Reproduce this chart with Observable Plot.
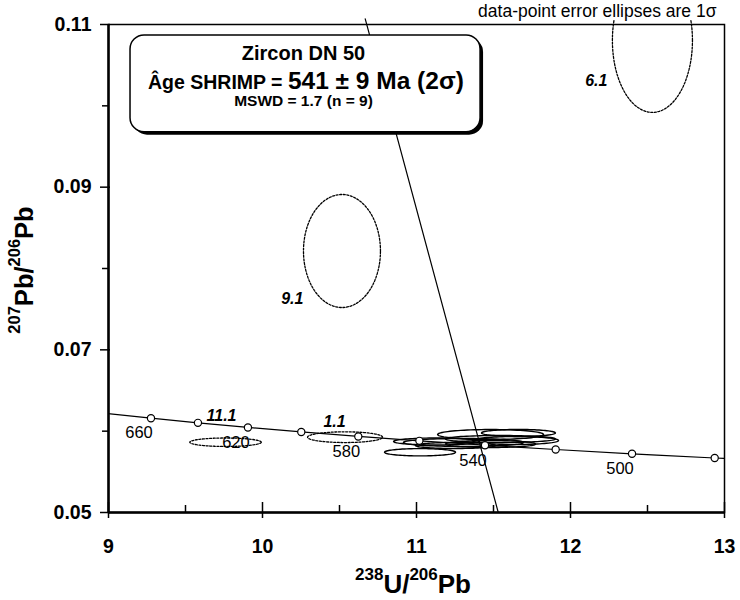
<!DOCTYPE html>
<html><head><meta charset="utf-8">
<script src="https://cdn.jsdelivr.net/npm/d3@7"></script>
<script src="https://cdn.jsdelivr.net/npm/@observablehq/plot@0.6"></script>
<style>
body{margin:0;background:#fff}
</style>
</head><body><div id="chart"></div>
<script>
// Concordia reference ages (Ma) and their Tera-Wasserburg coordinates
const concordiaAges = [680, 660, 640, 620, 600, 580, 560, 540, 520, 500, 480, 470];
const concordiaX = [8.9888, 9.2758, 9.5808, 9.9054, 10.2518, 10.6220, 11.0187, 11.4448, 11.9038, 12.3995, 12.9363, 13.2219];
const concordiaY = [0.062171, 0.061593, 0.061022, 0.060457, 0.059901, 0.059351, 0.058808, 0.058272, 0.057743, 0.057220, 0.056703, 0.056447];
const markedAges = [660, 640, 620, 600, 580, 560, 540, 520, 500, 480];
const labelledAges = [660, 620, 580, 540, 500];

// Discordia (regression) line end points
const discordiaX = [10.667, 11.531];
const discordiaY = [0.1107, 0.05];

// Accepted analyses (solid 1-sigma ellipses)
const acceptedIds = ["a1", "a2", "a3", "a4", "a5", "a6", "a7", "a8", "a9"];
const acceptedX  = [11.023, 11.481, 11.662, 11.130, 11.305, 11.481, 11.643, 11.253, 11.545];
const acceptedY  = [0.05741, 0.05959, 0.05978, 0.05873, 0.05861, 0.05842, 0.05885, 0.05824, 0.05904];
const acceptedSx = [0.2305, 0.344, 0.240, 0.279, 0.390, 0.292, 0.279, 0.260, 0.357];
const acceptedSy = [0.00045, 0.00061, 0.00043, 0.00043, 0.00049, 0.00043, 0.00049, 0.00037, 0.00043];

// Rejected analyses (dotted ellipses) with spot labels
const rejectedIds = ["6.1", "9.1", "11.1", "1.1"];
const rejectedX  = [12.532, 10.516, 9.760, 10.536];
const rejectedY  = [0.10804, 0.08215, 0.05864, 0.05926];
const rejectedSx = [0.26, 0.25, 0.232, 0.2435];
const rejectedSy = [0.00885, 0.00695, 0.00052, 0.00066];
const rejectedLabelX = [12.24, 10.266, 9.734, 10.468];
const rejectedLabelY = [0.10312, 0.07631, 0.06193, 0.06110];
const rejectedLabelSide = ["left", "left", "above", "above"];

// Axis ticks
const xMajor = [9, 10, 11, 12, 13];
const xMinor = [9.5, 10.5, 11.5, 12.5];
const yMajor = [0.05, 0.07, 0.09, 0.11];
const yMinor = [0.06, 0.08, 0.10];

const noteText = "data-point error ellipses are 1\u03c3";
const titleLine1 = "Zircon DN 50";
const titleLine2a = "\u00c2ge SHRIMP =";
const titleLine2b = "541 \u00b1 9 Ma (2\u03c3)";
const titleLine3 = "MSWD = 1.7 (n = 9)";

const yClip = 0.1107;

function ellipsePoints(ids, cx, cy, sx, sy) {
  const pts = [];
  ids.forEach((id, i) => {
    for (let k = 0; k <= 90; k++) {
      const a = k * 2 * Math.PI / 90;
      pts.push({id, x: cx[i] + sx[i] * Math.cos(a), y: cy[i] + sy[i] * Math.sin(a)});
    }
  });
  return pts;
}

const concordia = concordiaAges.map((t, i) => ({t, x: concordiaX[i], y: concordiaY[i]}));
const marked = concordia.filter(d => markedAges.includes(d.t));
const labelled = concordia.filter(d => labelledAges.includes(d.t));
const discordia = discordiaX.map((x, i) => ({x, y: discordiaY[i]}));
const acceptedPts = ellipsePoints(acceptedIds, acceptedX, acceptedY, acceptedSx, acceptedSy);
const rejectedPts = ellipsePoints(rejectedIds, rejectedX, rejectedY, rejectedSx, rejectedSy);
const rejectedLabels = rejectedIds.map((id, i) => ({id, x: rejectedLabelX[i], y: rejectedLabelY[i], side: rejectedLabelSide[i]}));

const W = 740, H = 600, mL = 108, mR = 16, mT = 24, mB = 88;
const innerW = W - mL - mR, innerH = H - mT - mB;
const FONT = "'Liberation Sans', Arial, Helvetica, sans-serif";
const spotStyle = {x: "x", y: "y", text: "id", fontSize: 16, fontWeight: "bold", fontStyle: "italic", lineAnchor: "middle"};

const chart = Plot.plot({
  width: W, height: H,
  marginLeft: mL, marginRight: mR, marginTop: mT, marginBottom: mB,
  style: {fontFamily: FONT, background: "white", color: "black"},
  x: {domain: [9, 13], axis: null},
  y: {domain: [0.05, 0.11], axis: null},
  marks: [
    // concordia curve
    Plot.line(concordia, {x: "x", y: "y", curve: "natural", stroke: "black", strokeWidth: 1.2, clip: true}),
    // discordia
    Plot.line(discordia, {x: "x", y: "y", stroke: "black", strokeWidth: 1.2}),
    // rejected ellipses (dotted)
    Plot.line(rejectedPts, {x: "x", y: d => d.y > yClip ? NaN : d.y, z: "id", stroke: "black", strokeWidth: 1.3, strokeDasharray: "2,1.6"}),
    // accepted ellipses
    Plot.line(acceptedPts, {x: "x", y: "y", z: "id", stroke: "black", strokeWidth: 1.4}),
    // concordia age markers
    Plot.dot(marked, {x: "x", y: "y", r: 3.6, fill: "white", stroke: "black", strokeWidth: 1.2}),
    Plot.text(labelled, {x: "x", y: "y", text: d => String(d.t), dx: -12, dy: 15, fontSize: 16.5, textAnchor: "middle", lineAnchor: "middle"}),
    // spot labels
    Plot.text(rejectedLabels.filter(d => d.side === "left"), {...spotStyle, textAnchor: "end"}),
    Plot.text(rejectedLabels.filter(d => d.side === "above"), {...spotStyle, textAnchor: "middle"}),
    // title box with shadow
    Plot.rect([0], {x1: 9.143, x2: 11.416, y1: 0.09676, y2: 0.10865, rx: 14, fill: "black", dx: 3, dy: 3}),
    Plot.rect([0], {x1: 9.143, x2: 11.416, y1: 0.09676, y2: 0.10865, rx: 14, fill: "white", stroke: "black", strokeWidth: 1.5}),
    Plot.text([titleLine1], {x: 10.266, y: 0.10558, lineAnchor: "bottom", textAnchor: "middle", fontSize: 20, fontWeight: "bold"}),
    Plot.text([titleLine2a], {x: 10.13, y: 0.10201, lineAnchor: "bottom", textAnchor: "end", fontSize: 19.5, fontWeight: "bold"}),
    Plot.text([titleLine2b], {x: 10.165, y: 0.10201, lineAnchor: "bottom", textAnchor: "start", fontSize: 24.5, fontWeight: "bold"}),
    Plot.text([titleLine3], {x: 10.266, y: 0.09992, lineAnchor: "bottom", textAnchor: "middle", fontSize: 15.5, fontWeight: "bold"}),
    // note
    Plot.text([noteText], {frameAnchor: "top-right", dx: -8, dy: -8, lineAnchor: "bottom", textAnchor: "end", fontSize: 17.5}),
    // frame
    Plot.frame({stroke: "black", strokeWidth: 1.5}),
    Plot.ruleX([9], {stroke: "black", strokeWidth: 2.5}),
    Plot.ruleY([0.05], {stroke: "black", strokeWidth: 2.5}),
    // x ticks
    Plot.ruleX(xMajor, {stroke: "black", strokeWidth: 1.5, insetTop: innerH - 10, insetBottom: -6}),
    Plot.ruleX(xMinor, {stroke: "black", strokeWidth: 1.5, insetTop: innerH - 7}),
    // y ticks
    Plot.ruleY(yMajor, {stroke: "black", strokeWidth: 1.5, insetRight: innerW - 2, insetLeft: -8}),
    Plot.ruleY(yMinor, {stroke: "black", strokeWidth: 1.5, insetRight: innerW, insetLeft: -6}),
    // tick labels
    Plot.text(xMajor, {x: d => d, frameAnchor: "bottom", dy: 40, lineAnchor: "bottom", text: d => String(d), fontSize: 19.5, fontWeight: "bold"}),
    Plot.text(yMajor, {y: d => d, frameAnchor: "left", dx: -17, textAnchor: "end", lineAnchor: "middle", text: d => d3.format(".2f")(d), fontSize: 19.5, fontWeight: "bold"})
  ]
});

// Axis titles with superscripted isotope masses
const svg = d3.select(chart);
const xl = svg.append("text")
  .attr("x", 413).attr("y", 580)
  .attr("text-anchor", "middle").attr("font-weight", "bold").attr("font-family", FONT).attr("fill", "black");
xl.append("tspan").attr("font-size", 17).attr("dy", 0).text("238");
xl.append("tspan").attr("font-size", 26).attr("dy", 13).text("U/");
xl.append("tspan").attr("font-size", 17).attr("dy", -13).text("206");
xl.append("tspan").attr("font-size", 26).attr("dy", 13).text("Pb");

const yl = svg.append("text")
  .attr("transform", "translate(33,270) rotate(-90)")
  .attr("x", 0).attr("y", -13)
  .attr("text-anchor", "middle").attr("font-weight", "bold").attr("font-family", FONT).attr("fill", "black");
yl.append("tspan").attr("font-size", 16.5).attr("dy", 0).text("207");
yl.append("tspan").attr("font-size", 25.5).attr("dy", 13).text("Pb/");
yl.append("tspan").attr("font-size", 16.5).attr("dy", -13).text("206");
yl.append("tspan").attr("font-size", 25.5).attr("dy", 13).text("Pb");

document.getElementById("chart").appendChild(chart);
</script>
</body></html>
